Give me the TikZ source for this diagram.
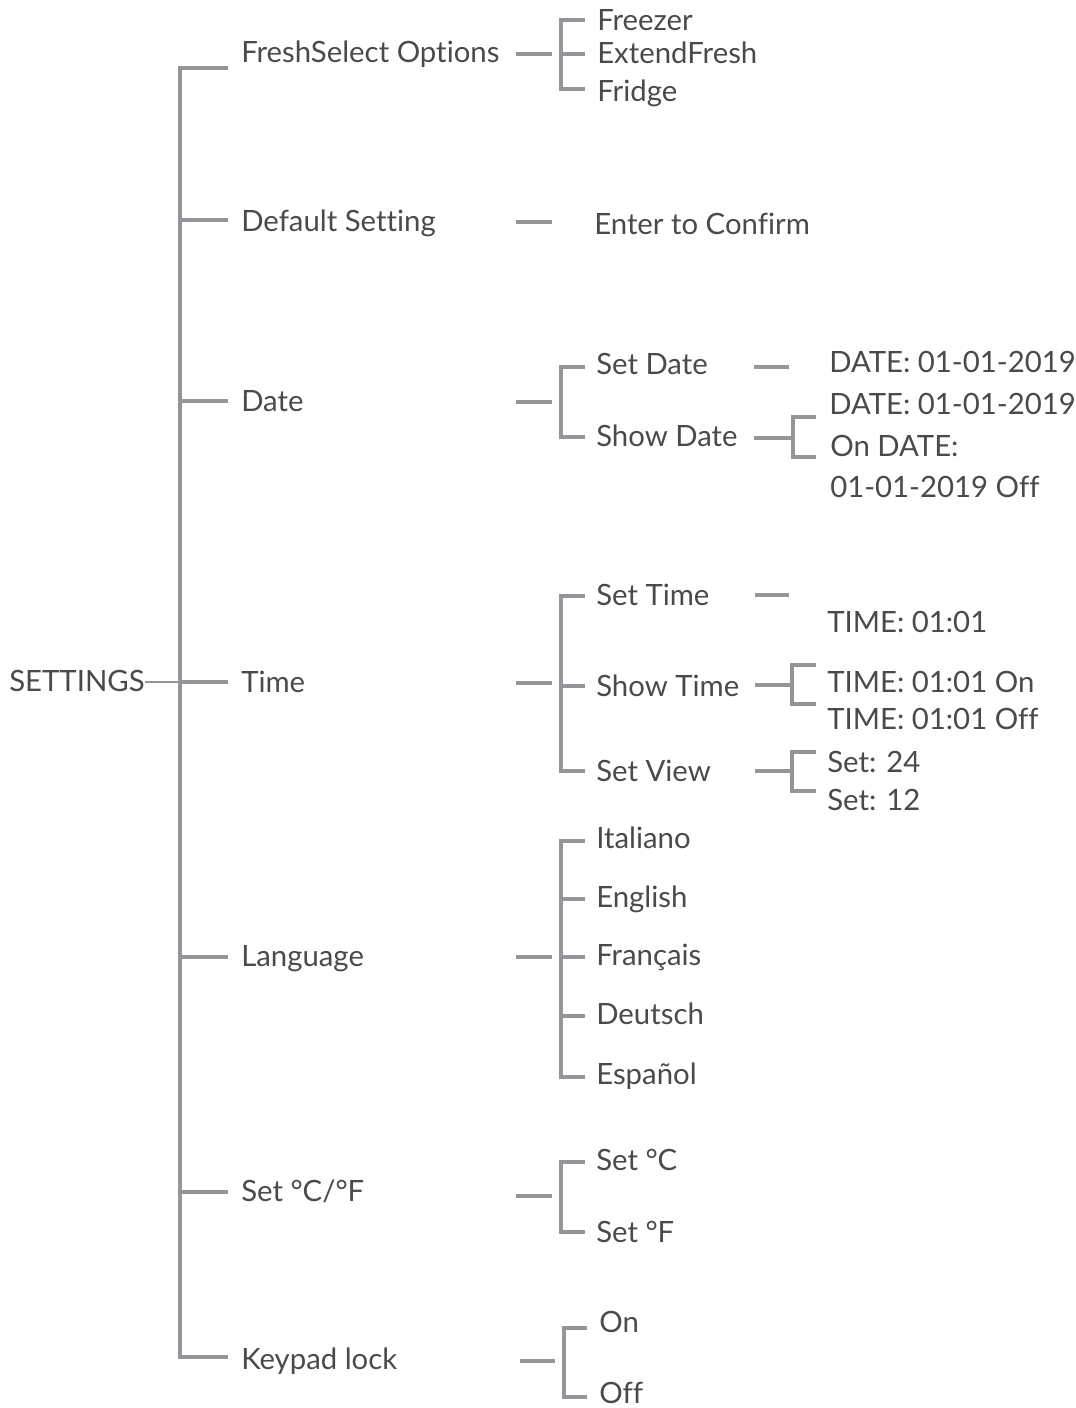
\documentclass[tikz,border=0pt]{standalone}
\usepackage{fontspec}
\setmainfont{Lato}[Ligatures=NoCommon]
\definecolor{ln}{HTML}{939598}
\definecolor{tx}{HTML}{4A4A4C}
\begin{document}
\begin{tikzpicture}[x=0.75pt,y=-0.75pt,
  lbl/.style={anchor=base west,inner sep=0pt,text=tx,font=\fontsize{22}{26}\selectfont},
  conn/.style={draw=ln,line width=2.3pt},
  thinconn/.style={draw=ln,line width=1pt}]
\useasboundingbox (0,0) rectangle (1075,1408);

% ---------- texts ----------
\node[lbl] (settings) at (9,691) {SETTINGS};
\node[lbl] (fresh) at (241,63) {FreshSelect Options};
\node[lbl] (default) at (241,232) {Default Setting};
\node[lbl] (date) at (241,411) {Date};
\node[lbl] (time) at (241,692) {Time};
\node[lbl] (lang) at (241,966) {Language};
\node[lbl] (unit) at (241,1201) {Set °C/°F};
\node[lbl] (keypad) at (241,1369) {Keypad lock};

\node[lbl] (freezer) at (597,31) {Freezer};
\node[lbl] (extend) at (597,64) {ExtendFresh};
\node[lbl] (fridge) at (597,102) {Fridge};
\node[lbl] (enter) at (594,235) {Enter to Confirm};
\node[lbl] (setdate) at (596,374) {Set Date};
\node[lbl] (showdate) at (596,446) {Show Date};
\node[lbl] (d1) at (829,373) {DATE: 01-01-2019};
\node[lbl] (d2) at (829,414) {DATE: 01-01-2019};
\node[lbl] (d3) at (830,456) {On DATE:};
\node[lbl] (d4) at (830,497) {01-01-2019 Off};
\node[lbl] (settime) at (596,605) {Set Time};
\node[lbl] (showtime) at (596,696) {Show Time};
\node[lbl] (setview) at (596,781) {Set View};
\node[lbl] (t1) at (827,632) {TIME: 01:01};
\node[lbl] (t2) at (827,692) {TIME: 01:01 On};
\node[lbl] (t3) at (827,729) {TIME: 01:01 Off};
\node[lbl] (s24) at (827,772) {Set: 24};
\node[lbl] (s12) at (827,810) {Set: 12};
\node[lbl] (ita) at (596,848) {Italiano};
\node[lbl] (eng) at (596,907) {English};
\node[lbl] (fra) at (596,965) {Français};
\node[lbl] (deu) at (596,1024) {Deutsch};
\node[lbl] (esp) at (596,1084) {Español};
\node[lbl] (setc) at (596,1170) {Set °C};
\node[lbl] (setf) at (596,1242) {Set °F};
\node[lbl] (on) at (599,1332) {On};
\node[lbl] (off) at (599,1403) {Off};

% ---------- junction coordinates ----------
\coordinate (trunkTop) at (180,68);
\coordinate (trunkBot) at (180,1357);
\coordinate (trunkMid) at (180,682);

% ---------- main trunk ----------
\draw[thinconn] (settings.east |- trunkMid) -- (trunkMid);
\draw[conn] (228,68) -- (trunkTop) -- (trunkBot) -- (228,1357);
\foreach \yy in {220,401,682,957,1192}
  \draw[conn] (180,\yy) -- (228,\yy);

% ---------- level 2 incoming stubs ----------
\foreach \yy in {54,222,402,683,957,1196}
  \draw[conn] (516,\yy) -- (552,\yy);
\draw[conn] (520,1361) -- (555,1361);

% ---------- level 2 brackets ----------
\draw[conn] (585,20) -- (561,20) -- (561,89) -- (585,89);
\draw[conn] (561,54) -- (585,54);
\draw[conn] (585,367) -- (561,367) -- (561,437) -- (585,437);
\draw[conn] (585,596) -- (561,596) -- (561,771) -- (585,771);
\draw[conn] (561,686) -- (585,686);
\draw[conn] (585,841) -- (561,841) -- (561,1077) -- (585,1077);
\foreach \yy in {899,957,1016}
  \draw[conn] (561,\yy) -- (585,\yy);
\draw[conn] (585,1162) -- (561,1162) -- (561,1232) -- (585,1232);
\draw[conn] (587,1328) -- (564,1328) -- (564,1397) -- (587,1397);

% ---------- level 3 ----------
\draw[conn] (754,367) -- (789,367);
\draw[conn] (754,438) -- (792,438);
\draw[conn] (816,417) -- (793,417) -- (793,457) -- (816,457);
\draw[conn] (755,595) -- (789,595);
\draw[conn] (755,685) -- (792,685);
\draw[conn] (816,665) -- (792,665) -- (792,704) -- (816,704);
\draw[conn] (755,771) -- (792,771);
\draw[conn] (816,752) -- (792,752) -- (792,791) -- (816,791);
\end{tikzpicture}
\end{document}
